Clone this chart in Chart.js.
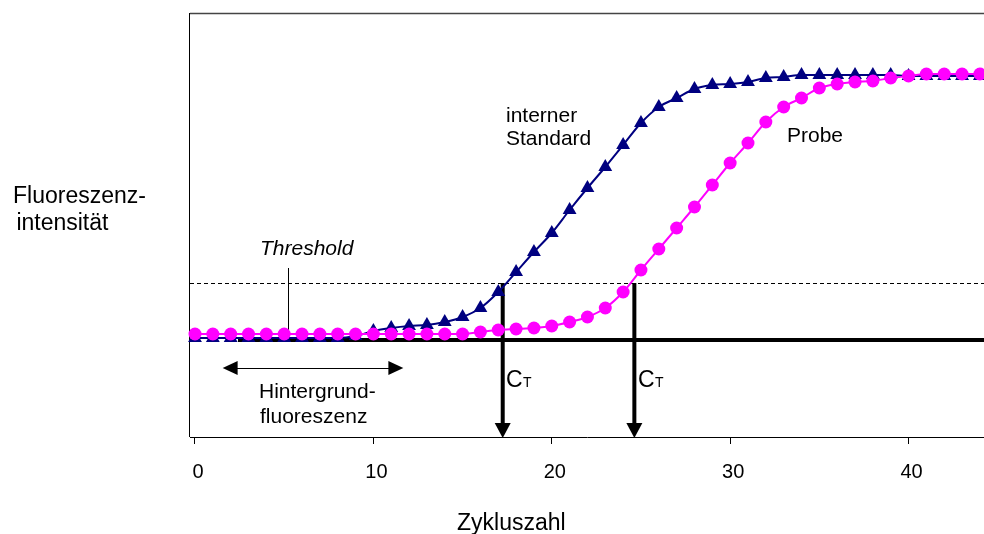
<!DOCTYPE html>
<html lang="de">
<head>
  <meta charset="UTF-8" />
  <title>PCR Fluoreszenz</title>
  <script src="https://cdn.jsdelivr.net/npm/chart.js"></script>
  <style>
    html, body {
      margin: 0;
      background: #fff;
      overflow: hidden;
    }
    .wrap {
      position: relative;
      width: 984px;
      height: 534px;
    }
    canvas {
      display: block;
    }
  </style>
</head>
<body>
<div class="wrap">
  <canvas id="pcrChart"></canvas>
</div>

<script>
  // Zyklen (x) und Messwerte (beliebige Einheiten)
  const cycles = [0, 1, 2, 3, 4, 5, 6, 7, 8, 9, 10, 11, 12, 13, 14, 15, 16, 17, 18, 19, 20, 21,
    22, 23, 24, 25, 26, 27, 28, 29, 30, 31, 32, 33, 34, 35, 36, 37, 38, 39, 40, 41, 42, 43, 44];
  const standardValues = [99, 99, 99, 99, 99, 99, 99, 99, 99, 101, 106, 109, 111, 112, 115, 120,
    129, 145, 165, 185, 204, 227, 249, 270, 292, 314, 330, 339, 348, 352, 353, 355, 359, 360,
    362, 362, 362, 362, 362, 362, 361, 361, 361, 361, 361];
  const probeValues = [103, 103, 103, 103, 103, 103, 103, 103, 103, 103, 103, 103, 103, 103, 103,
    103, 105, 107, 108, 109, 111, 115, 120, 129, 145, 167, 188, 209, 230, 252, 274, 294, 315,
    330, 339, 349, 353, 355, 356, 359, 361, 363, 363, 363, 363];
  const xTicks = [0, 10, 20, 30, 40];

  // Hilfslinien / Markierungen (Datenkoordinaten)
  const thresholdLevel = 154;
  const backgroundLevel = 97;
  const backgroundStart = 2.41;
  const ctCycles = [17.25, 24.63];
  const bgArrow = { from: 1.55, to: 11.68, level: 69 };
  const thresholdPointer = { x: 5.23, top: 169, bottom: 101 };

  const fam = '"Liberation Sans", Arial, sans-serif';

  function arrowHead(ctx, x, y, dir, len, half) {
    // dir: 'down', 'left', 'right'
    ctx.beginPath();
    if (dir === 'down') {
      ctx.moveTo(x, y);
      ctx.lineTo(x - half, y - len);
      ctx.lineTo(x + half, y - len);
    } else if (dir === 'left') {
      ctx.moveTo(x, y);
      ctx.lineTo(x + len, y - half);
      ctx.lineTo(x + len, y + half);
    } else {
      ctx.moveTo(x, y);
      ctx.lineTo(x - len, y - half);
      ctx.lineTo(x - len, y + half);
    }
    ctx.closePath();
    ctx.fill();
  }

  const markup = {
    id: 'markup',
    beforeDatasetsDraw(chart) {
      const { ctx, chartArea: a, scales: { x, y } } = chart;
      ctx.save();
      ctx.fillStyle = '#000';

      // Rahmen oben + linke Achse
      ctx.lineWidth = 1.5;
      ctx.strokeStyle = '#444';
      ctx.beginPath();
      ctx.moveTo(a.left, a.top + 0.5);
      ctx.lineTo(a.right, a.top + 0.5);
      ctx.stroke();
      ctx.strokeStyle = '#000';
      ctx.lineWidth = 1;
      ctx.beginPath();
      ctx.moveTo(a.left - 0.5, a.top);
      ctx.lineTo(a.left - 0.5, a.bottom);
      ctx.stroke();

      // Threshold (gestrichelt)
      const ty = y.getPixelForValue(thresholdLevel);
      ctx.setLineDash([4, 3]);
      ctx.beginPath();
      ctx.moveTo(a.left, Math.round(ty) + 0.5);
      ctx.lineTo(a.right, Math.round(ty) + 0.5);
      ctx.stroke();
      ctx.setLineDash([]);

      // Hintergrundlinie
      const by = y.getPixelForValue(backgroundLevel);
      ctx.lineWidth = 4;
      ctx.beginPath();
      ctx.moveTo(x.getPixelForValue(backgroundStart), by);
      ctx.lineTo(a.right, by);
      ctx.stroke();

      // CT Pfeile
      ctCycles.forEach(c => {
        const px = x.getPixelForValue(c);
        ctx.lineWidth = 4;
        ctx.beginPath();
        ctx.moveTo(px, ty);
        ctx.lineTo(px, a.bottom - 12);
        ctx.stroke();
        arrowHead(ctx, px, a.bottom + 1, 'down', 15, 8);
      });

      // Hintergrund-Doppelpfeil
      const ay = y.getPixelForValue(bgArrow.level);
      const ax1 = x.getPixelForValue(bgArrow.from);
      const ax2 = x.getPixelForValue(bgArrow.to);
      ctx.lineWidth = 1;
      ctx.beginPath();
      ctx.moveTo(ax1 + 10, Math.round(ay) + 0.5);
      ctx.lineTo(ax2 - 10, Math.round(ay) + 0.5);
      ctx.stroke();
      arrowHead(ctx, ax1, ay, 'left', 15, 7);
      arrowHead(ctx, ax2, ay, 'right', 15, 7);

      // Zeiger zum Threshold-Text
      const tx = Math.round(x.getPixelForValue(thresholdPointer.x)) + 0.5;
      ctx.beginPath();
      ctx.moveTo(tx, y.getPixelForValue(thresholdPointer.top));
      ctx.lineTo(tx, y.getPixelForValue(thresholdPointer.bottom));
      ctx.stroke();
      ctx.restore();
    },
    afterDatasetsDraw(chart) {
      const { ctx } = chart;
      ctx.save();
      ctx.fillStyle = '#000';
      ctx.textBaseline = 'alphabetic';
      ctx.textAlign = 'left';

      ctx.font = '23px ' + fam;
      ctx.fillText('Fluoreszenz-', 13, 203);
      ctx.fillText(' intensität', 10, 230);
      ctx.fillText('Zykluszahl', 457, 530);

      ctx.font = 'italic 21px ' + fam;
      ctx.fillText('Threshold', 260, 255);

      ctx.font = '21px ' + fam;
      ctx.fillText('Hintergrund-', 259, 398);
      ctx.fillText('fluoreszenz', 260, 423);
      ctx.fillText('interner', 506, 122);
      ctx.fillText('Standard', 506, 145);
      ctx.fillText('Probe', 787, 142);

      [506, 638].forEach(cx => {
        ctx.font = '23px ' + fam;
        ctx.fillText('C', cx, 387);
        ctx.font = '14px ' + fam;
        ctx.fillText('T', cx + 17, 387);
      });
      ctx.restore();
    }
  };

  const ctx = document.getElementById('pcrChart').getContext('2d');

  new Chart(ctx, {
    type: 'line',
    data: {
      labels: cycles,
      datasets: [
        {
          label: 'Probe',
          data: cycles.map((c, i) => ({ x: c, y: probeValues[i] })),
          borderColor: '#ff00ff',
          backgroundColor: '#ff00ff',
          borderWidth: 2,
          pointStyle: 'circle',
          pointRadius: 6.5,
          pointBorderWidth: 0,
          cubicInterpolationMode: 'monotone',
          clip: false
        },
        {
          label: 'interner Standard',
          data: cycles.map((c, i) => ({ x: c, y: standardValues[i] })),
          borderColor: '#000080',
          backgroundColor: '#000080',
          borderWidth: 2,
          pointStyle: 'triangle',
          pointRadius: 8,
          pointBorderWidth: 0,
          cubicInterpolationMode: 'monotone',
          clip: false
        }
      ]
    },
    options: {
      responsive: true,
      maintainAspectRatio: false,
      animation: false,
      layout: {
        autoPadding: false,
        padding: { left: 190, right: 0, top: 13, bottom: 0 }
      },
      plugins: {
        legend: { display: false },
        tooltip: { enabled: false }
      },
      scales: {
        x: {
          type: 'linear',
          min: -0.28,
          max: 44.23,
          afterBuildTicks: s => { s.ticks = xTicks.map(v => ({ value: v })); },
          afterFit: s => { s.height = 97; },
          grid: {
            display: true,
            drawOnChartArea: false,
            drawTicks: true,
            tickLength: 7,
            color: '#000',
            tickColor: '#000'
          },
          border: { display: true, color: '#000', width: 1 },
          ticks: {
            color: '#000',
            font: { family: fam, size: 20 },
            padding: 16,
            labelOffset: 3,
            maxRotation: 0
          }
        },
        y: {
          display: false,
          min: 0,
          max: 424
        }
      }
    },
    plugins: [markup]
  });
</script>
</body>
</html>
